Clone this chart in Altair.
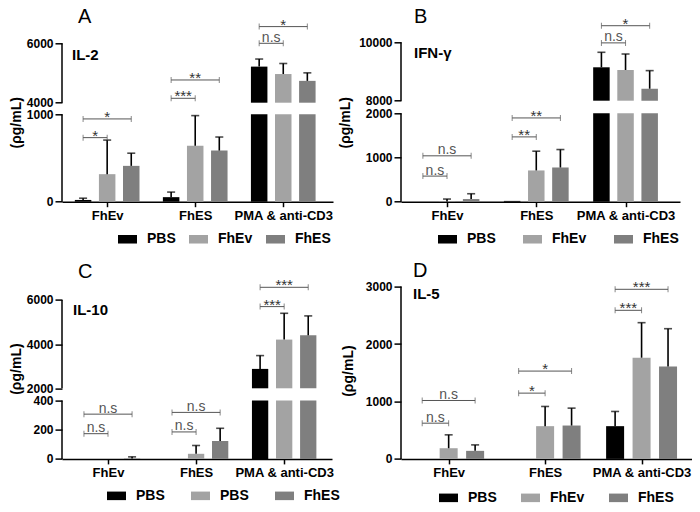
import json
import altair as alt
import pandas as pd

FONT = "Liberation Sans"
GROUPS = ["FhEv", "FhES", "PMA & anti-CD3"]
SERIES = ["PBS", "FhEv", "FhES"]
COLORS = ["#000000", "#a3a3a3", "#7f7f7f"]

# ---------------- Panel A : IL-2 ----------------
A_MEAN = [[20, 315, 410], [52, 640, 585], [5215, 4965, 4735]]
A_TOP = [[40, 705, 555], [110, 985, 740], [5470, 5320, 5005]]
A_SIG_GROUP = [0, 0, 1, 1, 2, 2]
A_SIG_TO = [1, 2, 1, 2, 1, 2]
A_SIG_Y = [733, 947, 4148, 4765, 6000, 6562]
A_SIG_TXT = ["*", "*", "***", "**", "n.s", "*"]
A_TICKS = [0, 1000, 4000, 6000]
A_SEGMENTS = [(0, 1000), (4000, 6000)]

# ---------------- Panel B : IFN-γ ----------------
B_MEAN = [[0, 5, 60], [18, 707, 774], [9144, 9051, 8411]]
B_TOP = [[0, 60, 180], [18, 1143, 1180], [9658, 9599, 9030]]
B_SIG_GROUP = [0, 0, 1, 1, 2, 2]
B_SIG_TO = [1, 2, 1, 2, 1, 2]
B_SIG_Y = [579, 1038, 1466, 1895, 9980, 10568]
B_SIG_TXT = ["n.s", "n.s", "**", "**", "n.s", "*"]
B_TICKS = [0, 1000, 2000, 8000, 10000]
B_SEGMENTS = [(0, 2000), (8000, 10000)]

# ---------------- Panel C : IL-10 ----------------
C_MEAN = [[0, 0, 3], [0, 35, 123], [2878, 4204, 4398]]
C_TOP = [[0, 0, 14], [0, 92, 210], [3480, 5394, 5276]]
C_SIG_GROUP = [0, 0, 1, 1, 2, 2]
C_SIG_TO = [1, 2, 1, 2, 1, 2]
C_SIG_Y = [173, 307, 185, 319, 5697, 6570]
C_SIG_TXT = ["n.s", "n.s", "n.s", "n.s", "***", "***"]
C_TICKS = [0, 200, 400, 2000, 4000, 6000]
C_SEGMENTS = [(0, 400), (2000, 6000)]
C_LEGEND_LABELS = ["PBS", "PBS", "FhES"]

# ---------------- Panel D : IL-5 ----------------
D_MEAN = [[0, 186, 140], [0, 570, 581], [570, 1762, 1610]]
D_TOP = [[0, 419, 244], [0, 913, 884], [826, 2372, 2267]]
D_SIG_GROUP = [0, 0, 1, 1, 2, 2]
D_SIG_TO = [1, 2, 1, 2, 1, 2]
D_SIG_Y = [622, 1017, 1145, 1529, 2587, 2953]
D_SIG_TXT = ["n.s", "n.s", "*", "*", "***", "***"]
D_TICKS = [0, 1000, 2000, 3000]
D_SEGMENTS = [(0, 3000)]

RECT = "M-1,-0.45H1V0.45H-1Z"


def panel(letter, label, means, tops, sg, sto, sy, stxt, ticks, segments,
          ydomain, yrange, gstep, xdomain, width, height, barsize,
          letter_pos, label_pos, legend_pos, legend_pad, legend_font,
          title_y, title_pad, legend_labels=None):
    rows = []
    for gi, g in enumerate(GROUPS):
        for si, s in enumerate(SERIES):
            rows.append(dict(group=g, series=s, pos=gi * gstep + si,
                             mean=means[gi][si], top=tops[gi][si]))
    df = pd.DataFrame(rows)

    bar_rows = []
    for k, (lo, hi) in enumerate(segments):
        last = k == len(segments) - 1
        for r in rows:
            if r["mean"] > lo:
                hi_eff = r["mean"] if last else min(r["mean"], hi)
                bar_rows.append(dict(series=r["series"], pos=r["pos"], y0=lo, y1=hi_eff))
    bars_df = pd.DataFrame(bar_rows)
    err_df = df[df["top"] > df["mean"]]

    sig = pd.DataFrame(dict(x1=[g * gstep for g in sg],
                            x2=[g * gstep + t for g, t in zip(sg, sto)],
                            level=sy, txt=stxt))
    sig["xm"] = (sig["x1"] + sig["x2"]) / 2
    ends = pd.concat([sig[["x1", "level"]].rename(columns={"x1": "x"}),
                      sig[["x2", "level"]].rename(columns={"x2": "x"})])
    seg_df = pd.DataFrame(dict(lo=[s[0] for s in segments], hi=[s[1] for s in segments]))

    xs = alt.Scale(domain=xdomain, nice=False, zero=False)
    ys = alt.Scale(domain=ydomain, range=yrange, nice=False, zero=False)
    xaxis = alt.Axis(values=[gi * gstep + 1 for gi in range(len(GROUPS))],
                     labelExpr=f"{json.dumps(GROUPS)}[round((datum.value - 1) / {gstep})]",
                     title=None, grid=False, domainColor="black", domainWidth=1.5,
                     tickColor="black", tickWidth=1.5, tickSize=5, labelFontSize=13,
                     labelFontWeight="bold", labelColor="black", labelPadding=3,
                     labelFlush=False, labelOverlap=False)
    yaxis = alt.Axis(values=ticks, format="d", title="(ρg/mL)", grid=False, domain=False,
                     tickColor="black", tickWidth=1.5, tickSize=7, labelFontSize=12,
                     labelFontWeight="bold", labelColor="black", labelPadding=2,
                     labelFlush=False, labelOverlap=False, titleFontSize=14,
                     titleFontWeight="bold", titleColor="black", titleY=title_y,
                     titlePadding=title_pad)

    def X(f):
        return alt.X(f, scale=xs, axis=xaxis)

    def Y(f):
        return alt.Y(f, scale=ys, axis=yaxis)

    leg_kwargs = dict(orient="none", legendX=legend_pos[0], legendY=legend_pos[1],
                      direction="horizontal", title=None, symbolType=RECT, symbolSize=361,
                      symbolStrokeWidth=0, labelFontSize=legend_font, labelFontWeight="bold",
                      labelColor="black", labelOffset=10, columnPadding=legend_pad, padding=0)
    if legend_labels is not None:
        leg_kwargs["labelExpr"] = (f"{json.dumps(legend_labels)}"
                                   f"[indexof({json.dumps(SERIES)}, datum.label)]")

    bars = alt.Chart(bars_df).mark_bar(size=barsize).encode(
        x=X("pos:Q"), y=Y("y0:Q"), y2="y1:Q",
        color=alt.Color("series:N", scale=alt.Scale(domain=SERIES, range=COLORS),
                        legend=alt.Legend(**leg_kwargs)))
    err = alt.Chart(err_df).mark_rule(color="black", strokeWidth=1.6).encode(
        x=X("pos:Q"), y=Y("mean:Q"), y2="top:Q")
    cap = alt.Chart(err_df).mark_tick(orient="horizontal", color="black", size=8,
                                      thickness=1.6).encode(x=X("pos:Q"), y=Y("top:Q"))
    axis_line = alt.Chart(seg_df).mark_rule(color="black", strokeWidth=1.5).encode(
        x=alt.value(0), y=Y("lo:Q"), y2="hi:Q")
    br_line = alt.Chart(sig).mark_rule(color="#555555", strokeWidth=1).encode(
        x=X("x1:Q"), x2="x2:Q", y=Y("level:Q"))
    br_ends = alt.Chart(ends).mark_tick(orient="vertical", color="#555555", size=6,
                                        thickness=1).encode(x=X("x:Q"), y=Y("level:Q"))
    ns = alt.Chart(sig[sig["txt"] == "n.s"]).mark_text(
        font=FONT, fontSize=14, color="#555555", baseline="alphabetic", dy=-1.5).encode(
        x=X("xm:Q"), y=Y("level:Q"), text="txt:N")
    stars = alt.Chart(sig[sig["txt"] != "n.s"]).mark_text(
        font=FONT, fontSize=15, color="#333333", baseline="alphabetic", dy=3).encode(
        x=X("xm:Q"), y=Y("level:Q"), text="txt:N")
    let = alt.Chart(pd.DataFrame(dict(t=[letter]))).mark_text(
        font=FONT, fontSize=20, align="left", baseline="alphabetic", color="black").encode(
        text="t:N", x=alt.value(letter_pos[0]), y=alt.value(letter_pos[1]))
    lab = alt.Chart(pd.DataFrame(dict(t=[label]))).mark_text(
        font=FONT, fontSize=15, fontWeight="bold", align="left", baseline="alphabetic",
        color="black").encode(text="t:N", x=alt.value(label_pos[0]), y=alt.value(label_pos[1]))

    return alt.layer(bars, err, cap, axis_line, br_line, br_ends, ns, stars, let, lab).properties(
        width=width, height=height)


pA = panel("A", "IL-2", A_MEAN, A_TOP, A_SIG_GROUP, A_SIG_TO, A_SIG_Y, A_SIG_TXT, A_TICKS,
           A_SEGMENTS, [0, 1000, 4000, 6000], [159.4, 72.0, 60.4, 1.0], 3.656,
           [-0.668, 10.17], 271, 159.4, 16.5, (16, -19.8), (10, 17.7), (56, 187.2), 13, 14,
           80, 3)
pB = panel("B", "IFN-γ", B_MEAN, B_TOP, B_SIG_GROUP, B_SIG_TO, B_SIG_Y, B_SIG_TXT, B_TICKS,
           B_SEGMENTS, [0, 2000, 8000, 10000], [159.4, 71.0, 58.4, 0.0], 3.7,
           [-0.7, 10.45], 279, 159.4, 16.5, (13, -19.8), (13, 15.7), (37, 187.2), 27, 14,
           80, 6)
pC = panel("C", "IL-10", C_MEAN, C_TOP, C_SIG_GROUP, C_SIG_TO, C_SIG_Y, C_SIG_TXT, C_TICKS,
           C_SEGMENTS, [0, 400, 2000, 6000], [172.3, 114.0, 101.7, 13.3], 3.66,
           [-0.704, 10.1], 270, 172.3, 16.3, (16, -8.3), (11, 28.3), (45, 199.5), 26, 14,
           82, 3, legend_labels=C_LEGEND_LABELS)
pD = panel("D", "IL-5", D_MEAN, D_TOP, D_SIG_GROUP, D_SIG_TO, D_SIG_Y, D_SIG_TXT, D_TICKS,
           D_SEGMENTS, [0, 3000], [172.3, 0.0], 3.645,
           [-0.612, 10.12], 294, 172.3, 18, (12, -10), (12, 12.3), (38, 201.5), 24, 14,
           84, 10)

chart = alt.concat(pA, pB, pC, pD, columns=2, spacing=alt.RowColnumber(row=71.3, column=45),
                   bounds="flush", align="all").resolve_scale(
    color="independent", x="independent", y="independent").resolve_legend(
    color="independent").properties(
    autosize=alt.AutoSizeParams(type="none"),
    padding={"left": 54, "top": 34.3, "right": 630, "bottom": 461.7}).configure(
    font=FONT).configure_view(stroke=None)

chart.save("out.html", embed_options={"renderer": "svg", "actions": False})
